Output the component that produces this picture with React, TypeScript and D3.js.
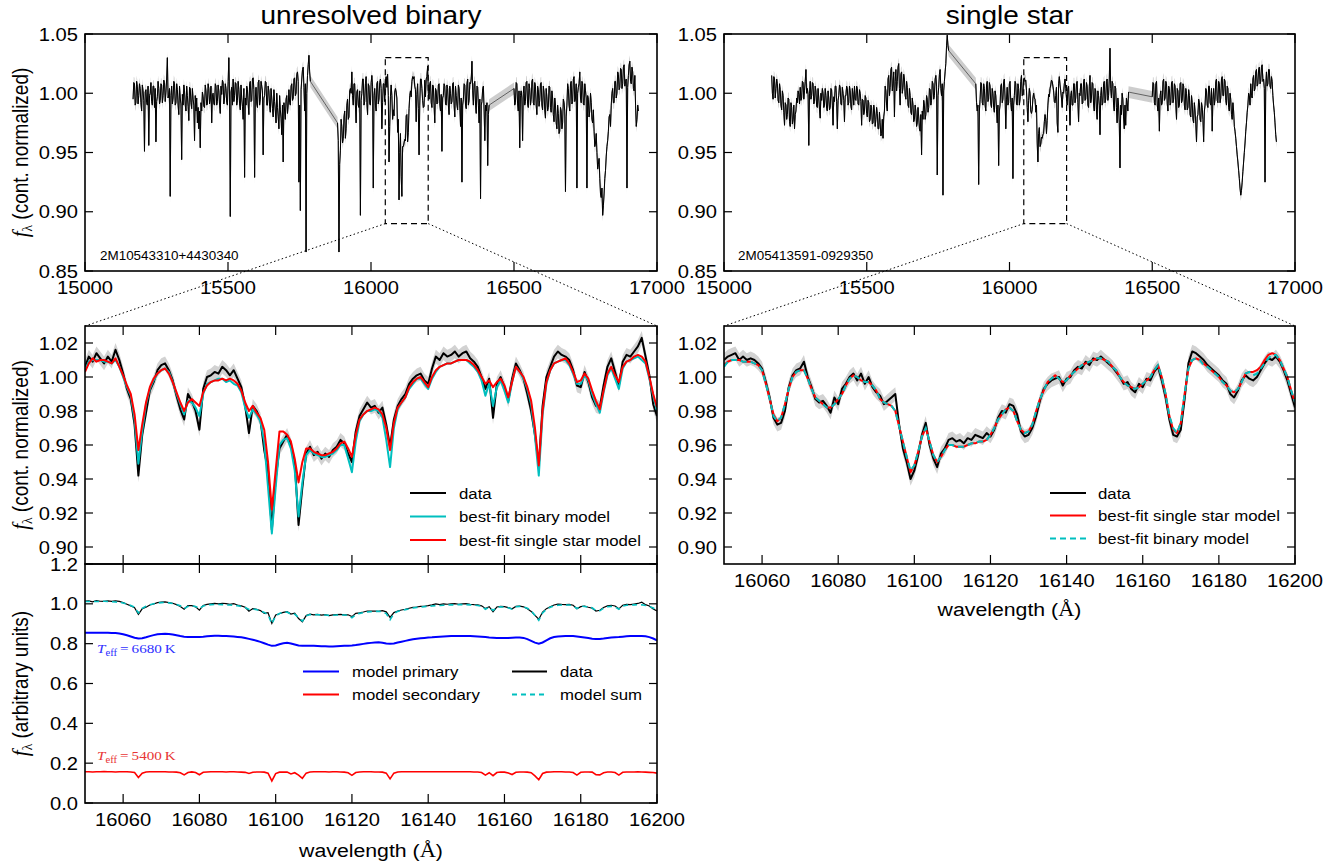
import React from "react";
import * as d3 from "d3";

const SANS = "'Liberation Sans', Arial, Helvetica, sans-serif";
const SERIF = "'Liberation Serif', 'DejaVu Serif', 'Times New Roman', serif";
// lettering is drawn slightly wide, as in the published figure
const STRETCH = 1.12;

const BLUE = "#0000ff";
const RED = "#ff0000";
const CYAN = "#00bfbf";

// ---------- full APOGEE spectra, three detector chips ----------
// samples every 5 Å (…_X) plus the samples half-way between them (…_MID)
const TOP_STEP = 5;
const BIN_CHIP_START = [15168, 15883, 16500];
const BIN_BLUE = [
  0.995, 1.008, 0.992, 1.006, 0.998, 1.004, 0.985, 1.002, 0.951, 1.003,
  0.990, 0.956, 1.000, 0.993, 1.006, 0.988, 0.959, 0.997, 1.004, 0.994,
  1.007, 0.998, 1.009, 1.001, 1.030, 0.999, 0.913, 1.006, 0.996, 1.008,
  0.992, 1.003, 0.982, 0.996, 0.944, 0.990, 1.002, 0.985, 0.998, 0.977,
  1.004, 0.987, 0.995, 0.960, 0.985, 0.975, 0.970, 0.954, 0.985, 0.997,
  0.988, 1.002, 0.991, 1.004, 0.995, 0.975, 1.000, 0.990, 1.006, 0.993,
  1.002, 0.983, 0.999, 1.009, 0.996, 1.004, 0.990, 1.030, 0.896, 1.005,
  1.012, 0.998, 1.008, 0.994, 1.003, 0.986, 0.996, 0.978, 0.929, 0.990,
  1.003, 0.982, 1.010, 0.994, 1.013, 0.929, 1.005, 0.988, 1.011, 0.995,
  1.006, 0.948, 0.998, 1.009, 0.990, 1.002, 0.984, 0.996, 0.980, 0.993,
  0.975, 0.988, 0.970, 0.986, 0.965, 0.942, 0.985, 0.995, 0.983, 1.003,
  0.990, 1.008, 0.996, 1.013, 1.000, 1.018, 0.925, 0.901, 1.012, 1.022,
  0.985, 0.866, 1.015, 1.032, 1.010,
];
const BIN_BLUE_MID = [
  1.009, 0.990, 1.010, 0.991, 1.008, 0.992, 1.007, 0.994, 1.001, 0.992,
  1.006, 0.998, 1.009, 0.990, 1.006, 1.004, 0.993, 1.010, 0.991, 1.008,
  0.992, 1.011, 0.993, 1.012, 0.996, 1.004, 0.998, 0.991, 1.010, 0.990,
  1.008, 0.990, 1.006, 0.991, 0.999, 1.007, 0.990, 1.006, 0.989, 1.005,
  0.992, 1.004, 0.990, 0.998, 0.996, 0.988, 0.985, 0.992, 1.001, 0.989,
  1.007, 0.990, 1.008, 0.991, 1.006, 0.999, 0.991, 1.008, 0.990, 1.007,
  0.990, 1.006, 1.011, 0.991, 1.008, 0.992, 1.010, 0.996, 1.001, 0.990,
  0.993, 1.009, 0.990, 1.010, 0.991, 1.007, 0.989, 1.004, 0.996, 1.006,
  0.991, 1.008, 0.993, 1.012, 1.003, 0.996, 0.991, 1.009, 0.990, 1.010,
  1.002, 0.996, 1.010, 0.990, 1.006, 0.989, 1.004, 0.987, 1.003, 0.985,
  1.000, 0.980, 0.998, 0.979, 0.990, 0.992, 0.978, 0.998, 0.990, 0.992,
  1.006, 0.994, 1.012, 0.998, 1.016, 1.010, 0.990, 1.003, 1.020, 1.005,
  1.008, 1.000, 1.024, 1.018, 1.004,
];
const BIN_GREEN = [
  0.975, 0.866, 0.952, 0.972, 0.962, 0.985, 0.970, 0.995, 0.980, 1.004,
  1.018, 0.990, 1.008, 0.975, 1.003, 0.988, 0.897, 1.000, 1.012, 0.993,
  1.014, 0.982, 1.006, 0.990, 1.015, 0.920, 1.004, 0.985, 1.010, 0.995,
  1.012, 0.970, 1.008, 0.993, 1.014, 1.016, 0.942, 0.997, 0.998, 0.986,
  1.001, 1.001, 0.967, 0.910, 0.966, 0.913, 0.955, 0.961, 0.981, 0.959,
  0.987, 1.002, 1.010, 1.012, 1.006, 0.976, 1.008, 0.948, 1.012, 1.004,
  0.988, 1.011, 1.012, 1.023, 0.995, 1.010, 0.988, 1.006, 0.975, 1.002,
  0.992, 1.008, 0.985, 0.951, 0.998, 1.006, 0.990, 1.004, 0.982, 1.000,
  0.993, 1.009, 0.980, 0.998, 0.986, 1.004, 0.972, 0.925, 0.995, 1.007,
  0.987, 1.012, 0.994, 1.008, 1.027, 0.990, 1.010, 0.983, 1.005, 0.975,
  0.911, 0.993, 1.006, 0.960, 0.985, 0.939, 0.990,
];
const BIN_GREEN_MID = [
  0.960, 0.940, 0.978, 0.958, 0.980, 0.962, 0.990, 0.978, 1.002, 1.000,
  0.998, 1.008, 0.990, 1.001, 0.990, 1.002, 0.994, 1.012, 0.990, 1.008,
  0.992, 1.008, 0.991, 1.009, 1.006, 0.998, 0.990, 1.008, 0.991, 1.009,
  1.004, 0.992, 1.008, 1.010, 1.005, 0.998, 0.972, 1.007, 0.978, 0.981,
  1.004, 0.996, 0.978, 0.950, 0.930, 0.955, 0.958, 0.960, 0.982, 0.967,
  0.998, 0.997, 1.014, 1.014, 1.003, 0.999, 0.987, 0.990, 1.012, 0.994,
  0.989, 0.997, 1.014, 1.000, 1.008, 0.992, 1.007, 0.990, 1.004, 0.991,
  1.007, 0.991, 0.999, 0.996, 1.008, 0.991, 1.007, 0.990, 1.006, 0.991,
  1.008, 0.990, 1.006, 0.990, 1.007, 0.990, 0.996, 0.990, 1.008, 0.990,
  1.008, 0.990, 1.009, 1.012, 1.002, 1.008, 0.990, 1.006, 0.990, 0.995,
  0.990, 1.004, 0.985, 0.990, 0.992, 0.982, 0.995,
];
const BIN_RED = [
  1.004, 0.992, 1.008, 0.985, 0.954, 1.002, 0.960, 1.006, 0.993, 1.010,
  0.988, 1.004, 0.995, 1.012, 0.990, 1.006, 0.982, 1.003, 0.994, 1.009,
  0.986, 1.001, 0.979, 0.997, 0.988, 1.005, 0.984, 0.996, 0.976, 0.990,
  0.970, 0.983, 0.968, 0.985, 0.975, 0.992, 0.917, 0.990, 1.004, 0.985,
  1.010, 0.993, 1.014, 0.996, 0.920, 1.005, 1.018, 0.992, 1.008, 0.990,
  1.002, 0.920, 0.995, 0.985, 0.992, 0.975, 0.968, 0.958, 0.950, 0.940,
  0.928, 0.912, 0.897, 0.915, 0.935, 0.955, 0.968, 0.982, 0.990, 1.004,
  0.992, 1.010, 1.000, 1.016, 1.005, 1.020, 1.008, 1.024, 1.010, 0.920,
  1.015, 1.027, 1.008, 1.018, 1.002, 0.990, 0.978, 0.985,
];
const BIN_RED_MID = [
  0.990, 1.009, 0.991, 1.002, 0.998, 0.996, 1.000, 0.990, 1.009, 0.991,
  1.008, 0.990, 1.010, 0.992, 1.009, 0.990, 1.006, 0.989, 1.008, 0.990,
  1.006, 0.986, 1.004, 0.985, 1.006, 0.988, 1.002, 0.982, 0.996, 0.975,
  0.990, 0.966, 0.988, 0.970, 0.995, 0.985, 0.980, 1.008, 0.990, 1.008,
  0.991, 1.012, 0.993, 1.008, 1.000, 1.008, 0.996, 1.010, 0.991, 1.008,
  0.996, 0.998, 0.980, 1.000, 0.978, 0.986, 0.955, 0.966, 0.936, 0.945,
  0.915, 0.920, 0.905, 0.928, 0.947, 0.960, 0.980, 0.972, 1.000, 0.992,
  1.010, 0.996, 1.018, 1.003, 1.021, 1.004, 1.022, 1.006, 1.012, 1.005,
  1.024, 1.010, 1.022, 1.004, 1.015, 0.972, 0.990, 0.975,
];

const SGL_CHIP_START = [15167, 15882, 16500];
const SGL_BLUE = [
  1.015, 0.995, 1.012, 1.004, 1.008, 0.992, 1.003, 0.986, 0.998, 0.973,
  0.990, 0.982, 0.995, 0.972, 0.988, 0.978, 0.970, 0.985, 0.992, 0.999,
  1.005, 0.996, 1.009, 1.002, 1.020, 1.004, 0.956, 1.010, 0.998, 1.008,
  0.993, 1.002, 0.988, 0.996, 0.979, 0.994, 1.000, 0.990, 0.998, 0.985,
  0.996, 0.988, 1.003, 0.973, 0.993, 1.006, 0.970, 0.998, 1.005, 0.990,
  1.000, 0.976, 0.998, 1.004, 0.992, 1.002, 0.986, 0.999, 1.006, 0.994,
  1.004, 0.990, 1.000, 0.973, 0.994, 0.985, 0.996, 0.980, 0.992, 0.978,
  0.988, 0.975, 0.985, 0.978, 0.983, 0.970, 0.975, 0.966, 0.962, 0.985,
  1.002, 0.985, 1.015, 1.005, 1.022, 1.008, 0.980, 1.020, 1.010, 1.025,
  0.990, 1.018, 1.005, 1.012, 0.995, 1.005, 0.988, 0.998, 0.982, 0.990,
  0.978, 0.985, 0.975, 0.980, 0.968, 0.948, 0.978, 0.990, 0.982, 0.995,
  0.988, 1.003, 0.994, 1.008, 0.998, 1.015, 0.931, 1.005, 1.020, 0.998,
  0.914, 1.010, 1.025, 1.049, 1.036,
];
const SGL_BLUE_MID = [
  1.000, 1.014, 0.996, 1.012, 0.994, 1.008, 0.990, 1.002, 0.984, 0.992,
  0.978, 0.996, 0.976, 0.992, 0.974, 0.990, 0.982, 0.996, 1.002, 0.991,
  0.994, 1.010, 0.995, 1.010, 1.000, 0.999, 1.000, 0.995, 1.009, 0.991,
  1.006, 0.989, 1.004, 0.986, 1.000, 1.004, 0.988, 1.004, 0.987, 1.002,
  0.986, 1.004, 0.990, 0.997, 1.006, 0.993, 0.994, 1.007, 0.991, 1.005,
  0.994, 0.998, 1.006, 0.990, 1.006, 0.989, 1.004, 0.990, 0.995, 1.006,
  0.991, 1.003, 0.993, 0.995, 0.982, 0.998, 0.983, 0.994, 0.976, 0.990,
  0.974, 0.990, 0.972, 0.988, 0.970, 0.984, 0.964, 0.978, 0.980, 1.006,
  0.990, 1.012, 0.998, 1.020, 1.002, 1.018, 1.010, 1.002, 1.022, 1.004,
  1.016, 1.000, 1.016, 0.998, 1.010, 0.990, 1.004, 0.984, 0.996, 0.976,
  0.990, 0.972, 0.988, 0.970, 0.982, 0.985, 0.994, 0.978, 0.998, 0.984,
  1.004, 0.990, 1.010, 0.995, 1.012, 1.006, 0.998, 1.016, 1.004, 1.008,
  1.002, 1.018, 1.040, 1.040, 1.038,
];
const SGL_GREEN = [
  1.008, 0.985, 0.923, 0.995, 1.008, 0.990, 1.004, 0.985, 1.010, 0.995,
  1.006, 0.988, 1.000, 0.984, 0.998, 0.975, 0.939, 0.990, 1.008, 0.995,
  1.012, 0.970, 1.005, 0.992, 1.010, 0.985, 0.928, 0.998, 1.008, 0.990,
  1.004, 0.995, 1.015, 1.000, 1.013, 1.011, 0.988, 0.994, 1.000, 0.983,
  0.996, 0.996, 0.984, 0.958, 0.966, 0.955, 0.963, 0.965, 0.976, 0.978,
  0.977, 0.999, 1.004, 1.011, 1.006, 0.993, 0.998, 0.975, 1.008, 1.007,
  0.996, 1.001, 1.008, 1.004, 0.990, 1.006, 0.973, 1.002, 0.990, 1.008,
  0.996, 1.010, 0.976, 0.998, 1.008, 0.992, 1.012, 0.995, 1.006, 0.988,
  1.015, 0.996, 1.008, 0.985, 1.002, 0.978, 0.998, 0.965, 1.005, 0.992,
  1.010, 0.995, 1.012, 0.998, 1.038, 0.996, 1.008, 0.985, 1.004, 0.975,
  0.990, 0.937, 0.982, 0.995, 0.970, 0.973, 0.992, 1.001,
];
const SGL_GREEN_MID = [
  0.992, 0.990, 0.985, 1.009, 0.992, 1.008, 0.990, 1.007, 0.993, 1.009,
  0.991, 1.004, 0.988, 1.002, 0.986, 0.990, 0.985, 1.006, 0.992, 1.010,
  0.996, 0.995, 0.990, 1.008, 0.992, 0.996, 0.990, 1.010, 0.991, 1.008,
  0.990, 1.010, 0.998, 1.012, 1.010, 1.002, 0.976, 1.004, 0.985, 0.986,
  1.000, 0.995, 0.990, 0.942, 0.971, 0.957, 0.962, 0.966, 0.982, 0.966,
  0.990, 0.997, 1.007, 1.010, 1.002, 0.992, 1.005, 0.967, 1.014, 1.002,
  0.988, 1.000, 1.012, 0.996, 1.004, 0.990, 0.998, 0.990, 1.008, 0.992,
  1.008, 0.992, 1.000, 1.008, 0.991, 1.010, 0.994, 1.009, 0.990, 1.006,
  0.992, 1.009, 0.990, 1.004, 0.986, 1.002, 0.990, 0.998, 0.990, 1.008,
  0.992, 1.010, 0.994, 1.012, 1.004, 1.010, 0.990, 1.006, 0.988, 0.996,
  0.975, 0.990, 1.000, 0.980, 0.990, 0.996, 0.985, 1.003,
];
const SGL_RED = [
  0.997, 1.008, 0.990, 1.010, 0.985, 0.968, 1.002, 0.992, 1.012, 0.996,
  1.008, 0.985, 1.004, 0.992, 1.010, 0.995, 1.006, 0.978, 1.002, 0.990,
  1.009, 0.994, 1.006, 0.986, 1.000, 0.988, 0.998, 0.980, 0.992, 0.975,
  0.985, 0.959, 0.982, 0.992, 0.976, 0.988, 0.959, 0.990, 1.002, 0.988,
  1.006, 0.990, 0.968, 1.004, 0.995, 1.012, 0.992, 1.008, 0.996, 1.014,
  0.998, 1.010, 0.990, 1.004, 0.985, 0.995, 0.978, 0.985, 0.968, 0.955,
  0.942, 0.928, 0.914, 0.925, 0.942, 0.958, 0.975, 0.990, 0.998, 1.008,
  0.996, 1.015, 1.004, 1.020, 1.008, 1.022, 1.010, 1.024, 1.012, 0.925,
  1.018, 1.008, 1.020, 1.004, 1.010, 0.990, 0.975, 0.959,
];
const SGL_RED_MID = [
  1.009, 0.992, 1.008, 0.990, 0.996, 0.998, 0.990, 1.010, 0.994, 1.010,
  0.991, 1.006, 0.990, 1.009, 0.992, 1.008, 0.990, 1.004, 0.988, 1.008,
  0.992, 1.008, 0.990, 1.004, 0.986, 1.003, 0.982, 0.998, 0.978, 0.992,
  0.974, 0.980, 0.995, 0.978, 0.992, 0.978, 0.985, 1.004, 0.990, 1.006,
  0.992, 1.004, 0.995, 0.990, 1.010, 0.994, 1.010, 0.992, 1.012, 0.998,
  1.012, 0.994, 1.006, 0.988, 1.000, 0.982, 0.992, 0.972, 0.962, 0.948,
  0.935, 0.920, 0.918, 0.934, 0.950, 0.968, 0.984, 1.000, 0.990, 0.998,
  1.012, 1.002, 1.018, 1.006, 1.020, 1.008, 1.022, 1.010, 1.004, 1.006,
  1.006, 1.020, 1.006, 1.014, 0.998, 0.984, 0.965, 0.955,
];

// ---------- 16050–16200 Å close-up, 1 Å sampling ----------
const ZOOM_START = 16050;
const ZOOM_STEP = 1;

// unresolved binary 2M10543310+4430340
const BIN_DATA = [
  1.006, 1.012, 1.009, 1.014, 1.011, 1.008, 1.012, 1.009, 1.016, 1.010,
  1.002, 0.993, 0.987, 0.972, 0.942, 0.966, 0.979, 0.992, 0.997, 1.004,
  1.007, 1.008, 1.004, 0.998, 0.989, 0.981, 0.975, 0.990, 0.986, 0.980,
  0.969, 0.993, 1.000, 1.001, 1.003, 1.002, 1.006, 1.004, 1.001, 1.004,
  0.999, 0.994, 0.983, 0.967, 0.983, 0.980, 0.975, 0.957, 0.945, 0.910,
  0.940, 0.958, 0.962, 0.966, 0.960, 0.950, 0.913, 0.935, 0.955, 0.959,
  0.954, 0.956, 0.952, 0.955, 0.953, 0.957, 0.959, 0.963, 0.961, 0.955,
  0.950, 0.968, 0.977, 0.981, 0.985, 0.982, 0.983, 0.979, 0.982, 0.972,
  0.959, 0.975, 0.983, 0.987, 0.990, 0.996, 0.999, 1.001, 1.002, 0.998,
  0.996, 1.005, 1.012, 1.010, 1.014, 1.012, 1.013, 1.015, 1.012, 1.014,
  1.015, 1.011, 1.009, 1.006, 1.000, 0.993, 0.999, 0.976, 0.996, 1.000,
  0.994, 0.986, 0.999, 1.008, 1.004, 0.999, 0.990, 0.980, 0.966, 0.948,
  0.983, 1.000, 1.006, 1.012, 1.015, 1.013, 1.012, 1.010, 1.004, 0.995,
  0.994, 1.003, 0.997, 0.988, 0.983, 0.982, 0.995, 1.006, 1.011, 1.003,
  0.995, 1.009, 1.013, 1.012, 1.015, 1.018, 1.023, 1.012, 1.001, 0.984,
  0.977,
];
const BIN_FIT_BINARY = [
  1.004, 1.009, 1.010, 1.010, 1.010, 1.009, 1.009, 1.008, 1.010, 1.006,
  1.000, 0.994, 0.989, 0.975, 0.949, 0.968, 0.984, 0.993, 0.998, 1.002,
  1.004, 1.005, 1.003, 0.997, 0.990, 0.984, 0.978, 0.986, 0.985, 0.982,
  0.977, 0.990, 0.996, 0.997, 0.998, 0.999, 0.999, 0.997, 0.998, 0.996,
  0.995, 0.991, 0.982, 0.976, 0.981, 0.978, 0.974, 0.962, 0.935, 0.908,
  0.935, 0.960, 0.963, 0.964, 0.958, 0.945, 0.918, 0.938, 0.954, 0.957,
  0.955, 0.954, 0.953, 0.953, 0.954, 0.955, 0.957, 0.960, 0.960, 0.952,
  0.944, 0.962, 0.974, 0.978, 0.980, 0.980, 0.981, 0.980, 0.976, 0.963,
  0.947, 0.970, 0.981, 0.985, 0.988, 0.993, 0.996, 0.999, 0.999, 0.996,
  0.993, 0.999, 1.003, 1.006, 1.007, 1.008, 1.008, 1.009, 1.010, 1.010,
  1.010, 1.008, 1.006, 1.003, 0.998, 0.989, 0.996, 0.983, 0.994, 0.998,
  0.992, 0.985, 0.997, 1.006, 1.003, 0.999, 0.993, 0.984, 0.965, 0.942,
  0.978, 0.996, 1.004, 1.008, 1.009, 1.010, 1.010, 1.007, 1.002, 0.996,
  0.996, 1.001, 0.998, 0.990, 0.984, 0.979, 0.991, 1.001, 1.005, 0.999,
  0.993, 1.005, 1.009, 1.010, 1.011, 1.012, 1.010, 1.008, 0.999, 0.989,
  0.980,
];
const BIN_FIT_SINGLE = [
  1.003, 1.008, 1.011, 1.009, 1.010, 1.010, 1.009, 1.008, 1.011, 1.006,
  1.001, 0.995, 0.990, 0.978, 0.957, 0.972, 0.985, 0.994, 0.999, 1.002,
  1.004, 1.005, 1.002, 0.997, 0.991, 0.985, 0.980, 0.985, 0.987, 0.985,
  0.983, 0.991, 0.995, 0.997, 0.998, 0.998, 0.999, 0.998, 0.999, 0.998,
  0.996, 0.992, 0.985, 0.980, 0.983, 0.979, 0.976, 0.969, 0.950, 0.922,
  0.945, 0.968, 0.968, 0.966, 0.962, 0.952, 0.938, 0.950, 0.958, 0.958,
  0.956, 0.955, 0.954, 0.954, 0.955, 0.956, 0.958, 0.961, 0.962, 0.958,
  0.953, 0.966, 0.975, 0.978, 0.980, 0.981, 0.982, 0.981, 0.978, 0.970,
  0.957, 0.973, 0.982, 0.985, 0.988, 0.994, 0.997, 0.999, 1.000, 0.997,
  0.994, 1.000, 1.004, 1.006, 1.007, 1.008, 1.008, 1.009, 1.010, 1.010,
  1.010, 1.009, 1.007, 1.004, 1.000, 0.996, 0.998, 0.994, 0.997, 0.999,
  0.995, 0.988, 0.997, 1.006, 1.003, 1.000, 0.994, 0.986, 0.970, 0.948,
  0.980, 0.997, 1.004, 1.008, 1.009, 1.010, 1.011, 1.008, 1.003, 0.997,
  0.998, 1.002, 0.999, 0.992, 0.986, 0.981, 0.992, 1.002, 1.006, 1.001,
  0.997, 1.006, 1.009, 1.010, 1.012, 1.013, 1.012, 1.009, 1.000, 0.990,
  0.982,
];

// single star 2M05413591-0929350
const SGL_DATA = [
  1.010, 1.012, 1.013, 1.014, 1.010, 1.012, 1.010, 1.011, 1.010, 1.008,
  1.005, 0.997, 0.988, 0.976, 0.972, 0.973, 0.980, 0.994, 1.001, 1.004,
  1.005, 1.009, 1.000, 0.994, 0.987, 0.985, 0.986, 0.983, 0.979, 0.988,
  0.984, 0.993, 0.996, 1.000, 1.002, 0.998, 1.002, 0.996, 1.000, 0.994,
  0.991, 0.989, 0.984, 0.986, 0.988, 0.990, 0.972, 0.958, 0.950, 0.940,
  0.945, 0.954, 0.966, 0.973, 0.960, 0.952, 0.947, 0.955, 0.958, 0.963,
  0.964, 0.962, 0.963, 0.961, 0.964, 0.963, 0.966, 0.965, 0.964, 0.967,
  0.965, 0.969, 0.976, 0.980, 0.979, 0.984, 0.983, 0.978, 0.968, 0.965,
  0.966, 0.970, 0.977, 0.986, 0.993, 0.996, 0.998, 0.999, 1.000, 0.995,
  0.999, 1.000, 1.004, 1.006, 1.005, 1.009, 1.007, 1.011, 1.010, 1.012,
  1.010, 1.008, 1.006, 1.003, 1.000, 0.996, 0.997, 0.993, 0.991, 0.996,
  0.994, 0.999, 0.998, 1.003, 1.006, 0.998, 0.988, 0.975, 0.966, 0.965,
  0.969, 0.987, 1.008, 1.015, 1.014, 1.012, 1.010, 1.007, 1.005, 1.003,
  1.001, 0.998, 0.996, 0.990, 0.988, 0.992, 0.998, 1.001, 0.999, 0.998,
  1.000, 1.004, 1.008, 1.011, 1.010, 1.012, 1.009, 1.004, 0.998, 0.990,
  0.982,
];
const SGL_FIT_SINGLE = [
  1.007, 1.009, 1.010, 1.010, 1.010, 1.009, 1.009, 1.009, 1.008, 1.007,
  1.004, 0.996, 0.987, 0.978, 0.974, 0.976, 0.984, 0.993, 1.000, 1.003,
  1.004, 1.004, 0.999, 0.993, 0.988, 0.986, 0.984, 0.982, 0.982, 0.984,
  0.987, 0.990, 0.995, 0.999, 1.001, 1.000, 0.998, 0.997, 0.997, 0.995,
  0.992, 0.987, 0.985, 0.984, 0.983, 0.980, 0.971, 0.962, 0.953, 0.944,
  0.948, 0.956, 0.965, 0.970, 0.962, 0.954, 0.950, 0.953, 0.957, 0.960,
  0.960, 0.959, 0.959, 0.959, 0.960, 0.961, 0.961, 0.962, 0.962, 0.963,
  0.966, 0.970, 0.975, 0.978, 0.981, 0.982, 0.980, 0.974, 0.969, 0.967,
  0.968, 0.972, 0.980, 0.987, 0.992, 0.997, 0.999, 1.001, 0.999, 0.997,
  0.998, 1.001, 1.003, 1.005, 1.007, 1.008, 1.009, 1.010, 1.011, 1.011,
  1.010, 1.009, 1.006, 1.004, 1.000, 0.997, 0.995, 0.994, 0.993, 0.994,
  0.996, 0.998, 1.000, 1.004, 1.007, 1.000, 0.990, 0.977, 0.969, 0.967,
  0.973, 0.990, 1.005, 1.010, 1.011, 1.010, 1.008, 1.006, 1.004, 1.002,
  1.000, 0.997, 0.995, 0.992, 0.991, 0.993, 0.997, 1.002, 1.003, 1.003,
  1.004, 1.006, 1.010, 1.013, 1.014, 1.013, 1.010, 1.005, 1.000, 0.992,
  0.985,
];
const SGL_FIT_BINARY = [
  1.006, 1.009, 1.010, 1.010, 1.010, 1.009, 1.009, 1.009, 1.008, 1.007,
  1.004, 0.996, 0.987, 0.977, 0.974, 0.976, 0.984, 0.993, 1.000, 1.003,
  1.004, 1.004, 0.999, 0.993, 0.988, 0.986, 0.984, 0.982, 0.982, 0.984,
  0.987, 0.990, 0.995, 0.999, 1.001, 1.000, 0.998, 0.997, 0.997, 0.995,
  0.992, 0.987, 0.985, 0.984, 0.983, 0.980, 0.971, 0.962, 0.953, 0.945,
  0.948, 0.956, 0.965, 0.970, 0.962, 0.954, 0.950, 0.953, 0.957, 0.960,
  0.960, 0.959, 0.959, 0.959, 0.960, 0.961, 0.961, 0.962, 0.962, 0.963,
  0.966, 0.970, 0.975, 0.978, 0.981, 0.982, 0.980, 0.974, 0.969, 0.967,
  0.968, 0.972, 0.980, 0.987, 0.992, 0.997, 0.999, 1.001, 0.999, 0.997,
  0.998, 1.001, 1.003, 1.005, 1.007, 1.008, 1.009, 1.010, 1.011, 1.011,
  1.010, 1.009, 1.006, 1.004, 1.000, 0.997, 0.995, 0.994, 0.993, 0.994,
  0.996, 0.998, 1.000, 1.004, 1.007, 1.000, 0.990, 0.977, 0.970, 0.967,
  0.973, 0.990, 1.005, 1.010, 1.011, 1.010, 1.007, 1.006, 1.004, 1.002,
  1.000, 0.997, 0.995, 0.992, 0.991, 0.993, 0.997, 1.002, 1.003, 1.001,
  1.002, 1.005, 1.008, 1.011, 1.013, 1.013, 1.010, 1.005, 1.000, 0.992,
  0.985,
];

// binary model components (arbitrary flux units)
const PRIMARY = [
  0.855, 0.855, 0.855, 0.855, 0.855, 0.855, 0.855, 0.854, 0.853, 0.851,
  0.847, 0.842, 0.836, 0.830, 0.826, 0.827, 0.832, 0.838, 0.843, 0.847,
  0.849, 0.850, 0.849, 0.846, 0.842, 0.838, 0.835, 0.834, 0.834, 0.834,
  0.834, 0.835, 0.837, 0.839, 0.840, 0.840, 0.839, 0.838, 0.837, 0.836,
  0.834, 0.832, 0.828, 0.824, 0.820, 0.815, 0.809, 0.802, 0.795, 0.789,
  0.791, 0.797, 0.802, 0.804, 0.801, 0.796, 0.791, 0.789, 0.790, 0.790,
  0.789, 0.788, 0.787, 0.787, 0.786, 0.786, 0.787, 0.788, 0.789, 0.790,
  0.791, 0.793, 0.796, 0.799, 0.802, 0.804, 0.806, 0.807, 0.805, 0.801,
  0.799, 0.801, 0.806, 0.810, 0.814, 0.818, 0.822, 0.825, 0.827, 0.829,
  0.831, 0.832, 0.834, 0.835, 0.836, 0.837, 0.838, 0.838, 0.839, 0.839,
  0.839, 0.838, 0.837, 0.836, 0.835, 0.833, 0.831, 0.830, 0.829, 0.829,
  0.829, 0.829, 0.830, 0.831, 0.831, 0.829, 0.823, 0.814, 0.805, 0.800,
  0.806, 0.817, 0.827, 0.833, 0.836, 0.837, 0.838, 0.838, 0.838, 0.836,
  0.834, 0.831, 0.828, 0.825, 0.823, 0.824, 0.826, 0.829, 0.831, 0.832,
  0.833, 0.835, 0.837, 0.838, 0.839, 0.839, 0.839, 0.837, 0.833, 0.826,
  0.817,
];
const SECONDARY = [
  0.157, 0.157, 0.156, 0.157, 0.157, 0.158, 0.157, 0.157, 0.156, 0.157,
  0.157, 0.157, 0.156, 0.153, 0.128, 0.150, 0.156, 0.157, 0.157, 0.157,
  0.157, 0.157, 0.156, 0.156, 0.155, 0.152, 0.141, 0.153, 0.156, 0.153,
  0.142, 0.154, 0.156, 0.157, 0.157, 0.157, 0.157, 0.156, 0.157, 0.157,
  0.156, 0.155, 0.154, 0.148, 0.154, 0.156, 0.156, 0.155, 0.150, 0.111,
  0.148, 0.155, 0.156, 0.155, 0.146, 0.152, 0.140, 0.124, 0.150, 0.156,
  0.157, 0.157, 0.157, 0.157, 0.156, 0.157, 0.157, 0.156, 0.155, 0.152,
  0.139, 0.153, 0.156, 0.157, 0.157, 0.157, 0.156, 0.156, 0.155, 0.150,
  0.121, 0.150, 0.156, 0.157, 0.157, 0.157, 0.157, 0.157, 0.157, 0.157,
  0.157, 0.157, 0.157, 0.157, 0.157, 0.157, 0.157, 0.157, 0.157, 0.157,
  0.157, 0.157, 0.156, 0.156, 0.153, 0.140, 0.152, 0.137, 0.153, 0.156,
  0.155, 0.151, 0.143, 0.154, 0.156, 0.156, 0.155, 0.152, 0.136, 0.117,
  0.148, 0.155, 0.156, 0.157, 0.157, 0.157, 0.156, 0.156, 0.153, 0.140,
  0.154, 0.156, 0.156, 0.155, 0.142, 0.141, 0.152, 0.156, 0.156, 0.153,
  0.140, 0.154, 0.156, 0.156, 0.156, 0.157, 0.156, 0.155, 0.154, 0.153,
  0.150,
];

// flux uncertainties (continuum-normalised units)
const TOP_ERR = 0.005;
const ZOOM_ERR = 0.004;

// axis ticks
const TOP_XTICKS = [15000, 15500, 16000, 16500, 17000];
const TOP_YTICKS = [0.85, 0.9, 0.95, 1.0, 1.05];
const ZOOM_XTICKS = [16060, 16080, 16100, 16120, 16140, 16160, 16180, 16200];
const ZOOM_YTICKS = [0.9, 0.92, 0.94, 0.96, 0.98, 1.0, 1.02];
const LOW_YTICKS = [0, 0.2, 0.4, 0.6, 0.8, 1.0, 1.2];
const ZOOM_BOX = [16050, 16200, 0.89, 1.03];

type Pt = [number, number];
type Scale = d3.ScaleLinear<number, number>;

// interleave the 5 Å samples with the half-step samples of one chip
function chipTrace(start: number, main: number[], mid: number[]): Pt[] {
  const pts: Pt[] = [];
  main.forEach((f, i) => {
    pts.push([start + i * TOP_STEP, f]);
    if (i < main.length - 1 && i < mid.length) pts.push([start + (i + 0.5) * TOP_STEP, mid[i]]);
  });
  return pts;
}
function gridPoints(vals: number[]): Pt[] {
  return vals.map((v, i) => [ZOOM_START + i * ZOOM_STEP, v] as Pt);
}

function Txt(props: {
  x: number; y: number; size?: number; anchor?: string; fill?: string;
  family?: string; rotate?: number; children: React.ReactNode;
}) {
  const { x, y, size = 18, anchor = "start", fill = "#000", family = SANS, rotate, children } = props;
  const t = `translate(${x},${y}) scale(${STRETCH},1)` + (rotate ? ` rotate(${rotate})` : "");
  return (
    <text transform={t} fontSize={size} fontFamily={family} textAnchor={anchor as any} fill={fill}>
      {children}
    </text>
  );
}

function Frame(props: {
  x: Scale; y: Scale; xTicks: number[]; yTicks: number[];
  xFmt?: (v: number) => string; yFmt?: (v: number) => string;
}) {
  const { x, y, xTicks, yTicks, xFmt, yFmt } = props;
  const [xa, xb] = x.range();
  const [yb, ya] = y.range();
  const XT = 9;
  const YT = 8;
  return (
    <g>
      {xTicks.map((t) => (
        <g key={"x" + t} stroke="#000" strokeWidth={1.2}>
          <line x1={x(t)} x2={x(t)} y1={yb} y2={yb - XT} />
          <line x1={x(t)} x2={x(t)} y1={ya} y2={ya + XT} />
        </g>
      ))}
      {yTicks.map((t) => (
        <g key={"y" + t} stroke="#000" strokeWidth={1.2}>
          <line x1={xa} x2={xa + YT} y1={y(t)} y2={y(t)} />
          <line x1={xb} x2={xb - YT} y1={y(t)} y2={y(t)} />
        </g>
      ))}
      <rect x={xa} y={ya} width={xb - xa} height={yb - ya} fill="none" stroke="#000" strokeWidth={1.6} />
      {xFmt &&
        xTicks.map((t) => (
          <Txt key={"xl" + t} x={x(t)} y={yb + 23} anchor="middle">
            {xFmt(t)}
          </Txt>
        ))}
      {yFmt &&
        yTicks.map((t) => (
          <Txt key={"yl" + t} x={xa - 7} y={y(t) + 6.5} anchor="end">
            {yFmt(t)}
          </Txt>
        ))}
    </g>
  );
}

function FluxLabel({ x, y, text }: { x: number; y: number; text: string }) {
  return (
    <Txt x={x} y={y} anchor="middle" rotate={-90} size={19}>
      <tspan fontFamily={SERIF} fontStyle="italic" fontSize={21}>f</tspan>
      <tspan fontFamily={SERIF} fontSize={13.5} dy={4}>λ</tspan>
      <tspan dy={-4}>{" " + text}</tspan>
    </Txt>
  );
}

function WaveLabel({ x, y }: { x: number; y: number }) {
  return (
    <Txt x={x} y={y} anchor="middle" size={19}>
      wavelength (<tspan fontFamily={SERIF} fontSize={20}>Å</tspan>)
    </Txt>
  );
}

function Teff({ x, y, value, fill }: { x: number; y: number; value: number; fill: string }) {
  return (
    <Txt x={x} y={y} size={13.5} family={SERIF} fill={fill}>
      <tspan fontStyle="italic">T</tspan>
      <tspan fontSize={9.5} dy={3}>eff</tspan>
      <tspan dy={-3}>{`\u2009=\u2009${value}\u2009K`}</tspan>
    </Txt>
  );
}

type LegendRow = { label: string; color: string; dash?: string; width?: number };
function Legend({ x0, x1, tx, ys, rows }: { x0: number; x1: number; tx: number; ys: number[]; rows: LegendRow[] }) {
  return (
    <g>
      {rows.map((r, i) => (
        <g key={r.label}>
          <line x1={x0} x2={x1} y1={ys[i]} y2={ys[i]} stroke={r.color} strokeWidth={r.width ?? 2} strokeDasharray={r.dash} />
          <Txt x={tx} y={ys[i] + 5.5} size={15}>
            {r.label}
          </Txt>
        </g>
      ))}
    </g>
  );
}

export default function App() {
  const xTL = d3.scaleLinear().domain([15000, 17000]).range([85, 657]);
  const xTR = d3.scaleLinear().domain([15000, 17000]).range([724, 1295]);
  const yT = d3.scaleLinear().domain([0.85, 1.05]).range([271, 34]);
  const xZL = d3.scaleLinear().domain([16050, 16200]).range([85, 657]);
  const xZR = d3.scaleLinear().domain([16050, 16200]).range([724, 1295]);
  const yZ = d3.scaleLinear().domain([0.89, 1.03]).range([564, 326]);
  const yB = d3.scaleLinear().domain([0, 1.2]).range([803, 564]);

  const binChips = [
    chipTrace(BIN_CHIP_START[0], BIN_BLUE, BIN_BLUE_MID),
    chipTrace(BIN_CHIP_START[1], BIN_GREEN, BIN_GREEN_MID),
    chipTrace(BIN_CHIP_START[2], BIN_RED, BIN_RED_MID),
  ];
  const sglChips = [
    chipTrace(SGL_CHIP_START[0], SGL_BLUE, SGL_BLUE_MID),
    chipTrace(SGL_CHIP_START[1], SGL_GREEN, SGL_GREEN_MID),
    chipTrace(SGL_CHIP_START[2], SGL_RED, SGL_RED_MID),
  ];
  const binFull = binChips.flat();
  const sglFull = sglChips.flat();

  const binData = gridPoints(BIN_DATA);
  const binFitB = gridPoints(BIN_FIT_BINARY);
  const binFitS = gridPoints(BIN_FIT_SINGLE);
  const sglData = gridPoints(SGL_DATA);
  const sglFitS = gridPoints(SGL_FIT_SINGLE);
  const sglFitB = gridPoints(SGL_FIT_BINARY);
  const primary = gridPoints(PRIMARY);
  const secondary = gridPoints(SECONDARY);
  const modelSum = gridPoints(PRIMARY.map((p, i) => p + SECONDARY[i]));
  // data placed on the model's flux scale
  const lowData = gridPoints(PRIMARY.map((p, i) => ((p + SECONDARY[i]) * BIN_DATA[i]) / BIN_FIT_BINARY[i]));

  const line = (x: Scale, y: Scale) => d3.line<Pt>().x((d) => x(d[0])).y((d) => y(d[1]));
  const band = (x: Scale, y: Scale, err: number) =>
    d3.area<Pt>().x((d) => x(d[0])).y0((d) => y(d[1] - err)).y1((d) => y(d[1] + err));

  const f2 = d3.format(".2f");
  const f1 = d3.format(".1f");
  const fd = d3.format("d");

  const clipRect = (id: string, x: Scale, y: Scale) => {
    const [xa, xb] = x.range();
    const [yb, ya] = y.range();
    return (
      <clipPath id={id} key={id}>
        <rect x={xa} y={ya} width={xb - xa} height={yb - ya} />
      </clipPath>
    );
  };

  const zoomBox = (x: Scale, y: Scale, xz: Scale, yz: Scale) => {
    const [w0, w1, f0, f1v] = ZOOM_BOX;
    const bx0 = x(w0), bx1 = x(w1), by0 = y(f1v), by1 = y(f0);
    const [zx0, zx1] = xz.range();
    const ztop = yz.range()[1];
    return (
      <g fill="none" stroke="#000">
        <rect x={bx0} y={by0} width={bx1 - bx0} height={by1 - by0} strokeWidth={1.2} strokeDasharray="6,4" />
        <line x1={bx0} y1={by1} x2={zx0} y2={ztop} strokeWidth={1} strokeDasharray="1.5,2.5" />
        <line x1={bx1} y1={by1} x2={zx1} y2={ztop} strokeWidth={1} strokeDasharray="1.5,2.5" />
      </g>
    );
  };

  const fullSpectrum = (x: Scale, full: Pt[], chips: Pt[][], clip: string) => (
    <g clipPath={`url(#${clip})`}>
      <path d={band(x, yT, TOP_ERR)(full) ?? ""} fill="#c4c4c4" opacity={0.85} />
      <path d={line(x, yT)(full) ?? ""} fill="none" stroke="#333" strokeWidth={0.7} />
      {chips.map((c, i) => (
        <path key={i} d={line(x, yT)(c) ?? ""} fill="none" stroke="#000" strokeWidth={1} strokeLinejoin="round" />
      ))}
    </g>
  );

  return (
    <svg
      width={1340}
      height={864}
      viewBox="0 0 1340 864"
      style={{ position: "absolute", left: 0, top: 0, display: "block", background: "#fff" }}
    >
      <defs>
        {clipRect("cTL", xTL, yT)}
        {clipRect("cTR", xTR, yT)}
        {clipRect("cZL", xZL, yZ)}
        {clipRect("cZR", xZR, yZ)}
        {clipRect("cB", xZL, yB)}
      </defs>
      <rect x={0} y={0} width={1340} height={864} fill="#fff" />

      {/* titles */}
      <Txt x={371} y={24} size={25} anchor="middle">unresolved binary</Txt>
      <Txt x={1009.5} y={24} size={25} anchor="middle">single star</Txt>

      {/* full spectra */}
      {fullSpectrum(xTL, binFull, binChips, "cTL")}
      {fullSpectrum(xTR, sglFull, sglChips, "cTR")}
      <Frame x={xTL} y={yT} xTicks={TOP_XTICKS} yTicks={TOP_YTICKS} xFmt={fd} yFmt={f2} />
      <Frame x={xTR} y={yT} xTicks={TOP_XTICKS} yTicks={TOP_YTICKS} xFmt={fd} yFmt={f2} />
      <Txt x={100} y={260} size={12}>2M10543310+4430340</Txt>
      <Txt x={738} y={260} size={12}>2M05413591-0929350</Txt>
      {zoomBox(xTL, yT, xZL, yZ)}
      {zoomBox(xTR, yT, xZR, yZ)}

      {/* close-up, unresolved binary */}
      <g clipPath="url(#cZL)">
        <path d={band(xZL, yZ, ZOOM_ERR)(binData) ?? ""} fill="#d2d2d2" />
        <path d={line(xZL, yZ)(binData) ?? ""} fill="none" stroke="#000" strokeWidth={2} strokeLinejoin="round" />
        <path d={line(xZL, yZ)(binFitB) ?? ""} fill="none" stroke={CYAN} strokeWidth={2} strokeLinejoin="round" />
        <path d={line(xZL, yZ)(binFitS) ?? ""} fill="none" stroke={RED} strokeWidth={2} strokeLinejoin="round" />
      </g>
      <Frame x={xZL} y={yZ} xTicks={ZOOM_XTICKS} yTicks={ZOOM_YTICKS} yFmt={f2} />
      <Legend
        x0={410} x1={446} tx={459} ys={[493, 516.5, 540]}
        rows={[
          { label: "data", color: "#000" },
          { label: "best-fit binary model", color: CYAN },
          { label: "best-fit single star model", color: RED },
        ]}
      />

      {/* close-up, single star */}
      <g clipPath="url(#cZR)">
        <path d={band(xZR, yZ, ZOOM_ERR)(sglData) ?? ""} fill="#d2d2d2" />
        <path d={line(xZR, yZ)(sglData) ?? ""} fill="none" stroke="#000" strokeWidth={2} strokeLinejoin="round" />
        <path d={line(xZR, yZ)(sglFitS) ?? ""} fill="none" stroke={RED} strokeWidth={2} strokeLinejoin="round" />
        <path d={line(xZR, yZ)(sglFitB) ?? ""} fill="none" stroke={CYAN} strokeWidth={2} strokeDasharray="6,4" />
      </g>
      <Frame x={xZR} y={yZ} xTicks={ZOOM_XTICKS} yTicks={ZOOM_YTICKS} xFmt={fd} yFmt={f2} />
      <Legend
        x0={1050} x1={1086} tx={1098} ys={[493, 515.5, 538.5]}
        rows={[
          { label: "data", color: "#000" },
          { label: "best-fit single star model", color: RED },
          { label: "best-fit binary model", color: CYAN, dash: "6,4" },
        ]}
      />
      <WaveLabel x={1009.5} y={616} />

      {/* model decomposition */}
      <g clipPath="url(#cB)">
        <path d={line(xZL, yB)(primary) ?? ""} fill="none" stroke={BLUE} strokeWidth={2} />
        <path d={line(xZL, yB)(secondary) ?? ""} fill="none" stroke={RED} strokeWidth={1.6} />
        <path d={line(xZL, yB)(lowData) ?? ""} fill="none" stroke="#000" strokeWidth={1.2} />
        <path d={line(xZL, yB)(modelSum) ?? ""} fill="none" stroke={CYAN} strokeWidth={1.6} strokeDasharray="5,4" />
      </g>
      <Frame x={xZL} y={yB} xTicks={ZOOM_XTICKS} yTicks={LOW_YTICKS} xFmt={fd} yFmt={f1} />
      <Teff x={97} y={653} value={6680} fill="#3030ff" />
      <Teff x={97} y={760} value={5400} fill="#e83434" />
      <Legend
        x0={303} x1={339} tx={352} ys={[671.5, 694.5]}
        rows={[
          { label: "model primary", color: BLUE },
          { label: "model secondary", color: RED },
        ]}
      />
      <Legend
        x0={512} x1={547} tx={560} ys={[671.5, 694.5]}
        rows={[
          { label: "data", color: "#000" },
          { label: "model sum", color: CYAN, dash: "5,4" },
        ]}
      />
      <WaveLabel x={371} y={857} />

      {/* y-axis labels */}
      <FluxLabel x={28} y={152.5} text="(cont. normalized)" />
      <FluxLabel x={28} y={445} text="(cont. normalized)" />
      <FluxLabel x={28} y={683.5} text="(arbitrary units)" />
    </svg>
  );
}
